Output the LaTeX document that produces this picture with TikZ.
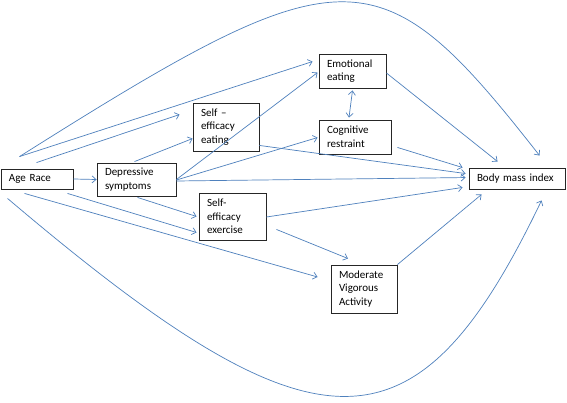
\documentclass[tikz,border=0pt]{standalone}
\usepackage{fontspec}
\setmainfont{Carlito}
\usetikzlibrary{arrows.meta}
\definecolor{edgeblue}{RGB}{79,129,189}
\begin{document}
\begin{tikzpicture}[x=1pt,y=-1pt,
  box/.style={draw=black!85, line width=0.9pt, fill=white, inner xsep=8pt, inner ysep=1pt,
    align=left, font=\fontsize{11}{13.6}\selectfont},
  link/.style={draw=edgeblue, line width=0.7pt, -{Straight Barb[length=4pt,width=7pt]}},
  dlink/.style={draw=edgeblue, line width=0.7pt, {Straight Barb[length=4pt,width=7pt]}-{Straight Barb[length=4pt,width=7pt]}}
]
\fill[white] (0,0) rectangle (567,403);
\useasboundingbox (0,0) rectangle (567,403);

\node[box, minimum width=72pt, minimum height=20pt, text width=56pt] (age) at (37,179) {Age Race};
\node[box, minimum width=79pt, minimum height=33pt, text width=63pt] (depr) at (136.5,179.5) {Depressive\\symptoms};
\node[box, minimum width=66pt, minimum height=48pt, text width=50pt] (see) at (226,127) {Self –\\efficacy\\eating};
\node[box, minimum width=67pt, minimum height=34pt, text width=51pt] (emo) at (352.5,71) {Emotional\\eating};
\node[box, minimum width=72pt, minimum height=34pt, text width=56pt] (cog) at (355,137) {Cognitive\\restraint};
\node[box, minimum width=96pt, minimum height=21pt, text width=80pt] (bmi) at (517,178.5) {Body mass index};
\node[box, minimum width=67pt, minimum height=47pt, text width=51pt] (seex) at (232.5,216.5) {Self-\\efficacy\\exercise};
\node[box, minimum width=66pt, minimum height=48pt, text width=50pt] (mva) at (364,289) {Moderate\\Vigorous\\Activity};

% Age Race
\draw[link] (age.east) -- (depr.west);
\draw[link] ([shift={(19,-12)}]age.north west) -- ([shift={(-6,8)}]emo.north west);
\draw[link] ([shift={(36,-6)}]age.north west) -- ([shift={(-13,12)}]see.north west);
\draw[link] ([shift={(19,-12)}]age.north west) .. controls (346,-49.5) and (379,-49.5) .. ([shift={(71,-12)}]bmi.north west);
\draw[link] ([shift={(7,9)}]age.south west) .. controls (318,462) and (416,462) .. ([shift={(73,11)}]bmi.south west);
\draw[link] ([shift={(67,4)}]age.south west) -- ([shift={(-2,16)}]seex.west);
\draw[link] ([shift={(24,4)}]age.south west) -- ([shift={(-13,-12)}]mva.west);

% Depressive symptoms
\draw[link] ([shift={(38,-1)}]depr.north west) -- ([shift={(0,36)}]see.north west);
\draw[link] (depr.east) -- ([shift={(-1,19)}]emo.north west);
\draw[link] ([shift={(0,0.5)}]depr.east) -- ([shift={(-1,18)}]cog.north west);
\draw[link] ([shift={(0,1.5)}]depr.east) -- ([shift={(-3,10)}]bmi.north west);
\draw[link] ([shift={(41,1)}]depr.south west) -- ([shift={(-2,0)}]seex.west);

% Mediators to BMI
\draw[link] ([shift={(0,-6)}]see.south east) -- ([shift={(-3,6)}]bmi.north west);
\draw[link] ([shift={(6,-7)}]cog.south east) -- ([shift={(-6,0)}]bmi.north west);
\draw[link] ([shift={(0,2)}]emo.east) -- ([shift={(29,-6)}]bmi.north west);
\draw[dlink] ([shift={(0,2)}]emo.south) -- ([shift={(-6,-2)}]cog.north);
\draw[link] ([shift={(0,0.5)}]seex.east) -- ([shift={(-6,-2)}]bmi.south west);
\draw[link] (mva.north east) -- ([shift={(13,5)}]bmi.south west);
\draw[link] ([shift={(10,-11)}]seex.south east) -- ([shift={(-16,-6)}]mva.north);
\end{tikzpicture}
\end{document}
